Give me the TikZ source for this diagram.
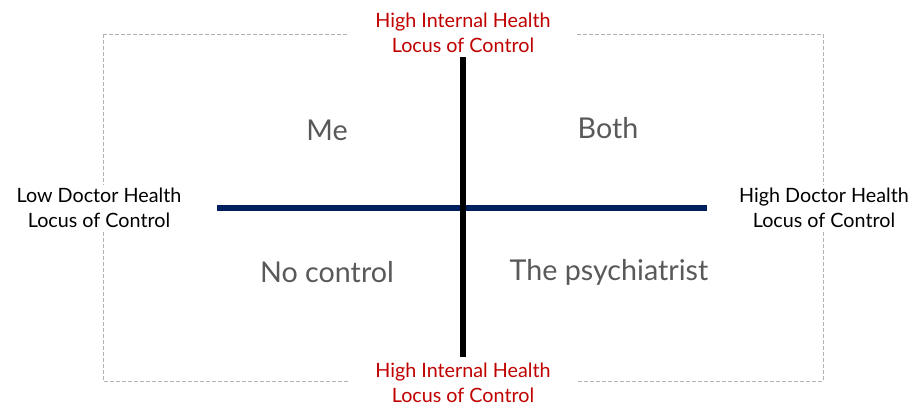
\documentclass[tikz,border=0pt]{standalone}
\usepackage{fontspec}
\setmainfont{Lato}
\definecolor{axisred}{RGB}{192,0,0}
\definecolor{axisnavy}{RGB}{0,32,96}
\definecolor{quadgray}{RGB}{89,89,89}
\tikzset{
  axislabel/.style={align=center, fill=white, inner ysep=2pt, inner xsep=20pt, font=\fontsize{14.8}{18.8}\selectfont},
  quadlabel/.style={text=quadgray, font=\fontsize{21.5}{24}\selectfont},
}
\begin{document}
\begin{tikzpicture}[x=0.75pt, y=-0.75pt]
  \useasboundingbox (0, 0) rectangle (914, 409);
  \def\cx{463}
  \def\cy{208}

  \draw[gray!60, dashed, dash pattern=on 3pt off 1.5pt] (103, 34) rectangle (823, 381);

  \node[axislabel, text=axisred] (TOP) at (\cx, 33) {High Internal Health\\Locus of Control};
  \node[axislabel, text=axisred] (BOT) at (\cx, 383) {High Internal Health\\Locus of Control};
  \node[axislabel, inner xsep=2pt] (LEFT) at (99, \cy) {Low Doctor Health\\Locus of Control};
  \node[axislabel, inner xsep=2pt] (RIGHT) at (824, \cy) {High Doctor Health\\Locus of Control};

  \coordinate (W) at (217, \cy);
  \coordinate (E) at (707, \cy);
  \coordinate (N) at (\cx, 57);
  \coordinate (S) at (\cx, 357);

  \draw[axisnavy, line width=3.8pt] (W) -- (E);
  \draw[black, line width=3.8pt] (N) -- (S);

  \node[quadlabel] (ME) at (327, 130) {Me};
  \node[quadlabel] (BOTH) at (608, 128) {Both};
  \node[quadlabel] (NONE) at (327, 272) {No control};
  \node[quadlabel] (PSY) at (609, 272) {The psychiatrist};
\end{tikzpicture}
\end{document}
